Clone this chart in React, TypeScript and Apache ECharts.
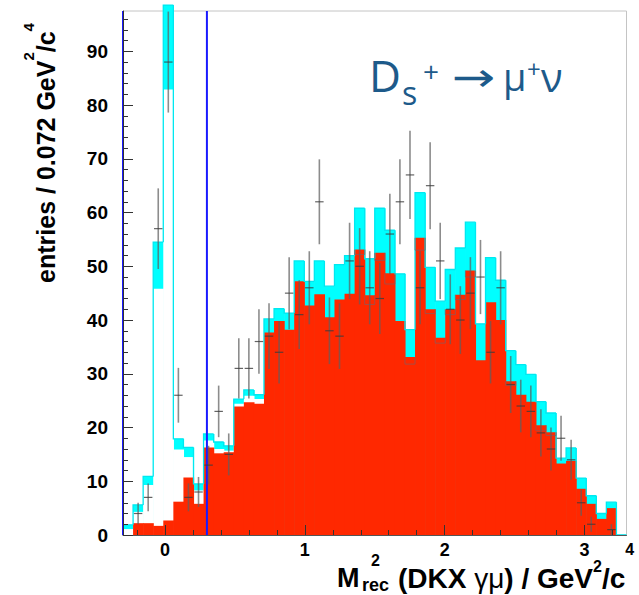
import React, { useEffect, useRef } from 'react';
import * as echarts from 'echarts';

// ---------------- data ----------------
const BIN_START = -0.3;
const BIN_WIDTH = 0.072;
const X_MIN = -0.3;
const X_MAX = 3.3;
const Y_MIN = 0;
const Y_MAX = 97.5;

// total MC (cyan filled)
const totalMC = [
  1.9, 5.6, 10.9, 54.5, 98.6, 17.9, 16.3, 9.5, 18.8, 17.3,
  16.6, 25.3, 27.0, 26.1, 40.2, 42.1, 41.3, 51.0, 47.2, 51.0,
  46.3, 50.3, 52.0, 60.8, 51.4, 60.8, 56.7, 48.6, 38.2, 63.7,
  49.8, 43.5, 49.4, 53.4, 58.2, 39.3, 51.6, 47.4, 34.3, 31.7,
  29.9, 24.8, 22.7, 14.3, 16.2, 10.6, 7.3, 4.0, 6.1, 0,
];
// white-filled component (visible in the signal region)
const whiteComponent = [
  1.1, 4.3, 9.3, 45.8, 82.9, 15.9, 14.5, 8.3, 17.6, 16.0,
  15.7, 24.4, 25.9, 25.3, null, null, null, null, null, null,
  null, null, null, null, null, null, null, null, null, null,
  null, null, null, null, null, null, null, null, null, null,
  null, null, null, null, null, null, null, null, null, null,
];
// background (red filled)
const background = [
  0, 2.2, 2.2, 1.7, 2.7, 6.2, 10.7, 5.8, 16.3, 15.2,
  15.4, 23.9, 24.7, 24.4, 37.7, 39.8, 38.2, 47.2, 42.7, 44.8,
  40.5, 43.8, 44.9, 53.1, 44.6, 52.5, 48.7, 39.8, 33.1, 55.3,
  42.0, 36.7, 42.0, 44.7, 49.2, 32.5, 43.3, 40.0, 28.6, 26.1,
  24.8, 20.4, 19.1, 13.3, 13.8, 8.6, 5.8, 3.0, 5.0, 0,
];
// thin grey outline histogram seen inside the red area
const greyOutline = [
  null, null, null, null, null, null, null, null, null, null,
  null, null, null, null, null, null, null, null, null, null,
  null, null, null, 52.2, 42.9, 51.1, 46.7, null, 31.8, 53.0,
  41.2, 35.7, 41.0, 43.8, 48.0, null, null, null, 27.8, null,
  null, 19.4, 18.5, null, null, null, null, null, null, null,
];
// data points and their errors
const dataCounts = [
  0, 4, 7, 57, 88, 26, 7, 8, 13, 23,
  15, 31, 31, 36, 37, 34, 45, 41, 46, 62,
  38, 37, 51, 50, 46, 44, 56, 62, 67, 46,
  65, 51, 42, 40, 45, 48, 34, 46, 28, 24,
  23, 19, 16, 18, 14, 6, 2, 0, 1, 0,
];
const dataErrors = [
  0, 2.0, 2.6, 7.5, 9.4, 5.1, 2.6, 2.8, 3.6, 4.8,
  3.9, 5.6, 5.6, 6.0, 6.1, 5.8, 6.7, 6.4, 6.8, 7.9,
  6.2, 6.1, 7.1, 7.1, 6.8, 6.6, 7.5, 7.9, 8.2, 6.8,
  8.1, 7.1, 6.5, 6.3, 6.7, 6.9, 5.8, 6.8, 5.3, 4.9,
  4.8, 4.4, 4.0, 4.2, 3.7, 2.4, 1.4, 0, 1.0, 0,
];
const cutLines = [-0.3, 0.3];

const X_MAJOR = [0, 1, 2, 3];
const X_MINOR = [-0.2, 0.2, 0.4, 0.6, 0.8, 1.2, 1.4, 1.6, 1.8, 2.2, 2.4, 2.6, 2.8, 3.2];
const Y_MAJOR = [0, 10, 20, 30, 40, 50, 60, 70, 80, 90];
const Y_MINOR = [
  2, 4, 6, 8, 12, 14, 16, 18, 22, 24, 26, 28, 32, 34, 36, 38, 42, 44, 46, 48,
  52, 54, 56, 58, 62, 64, 66, 68, 72, 74, 76, 78, 82, 84, 86, 88, 92, 94, 96,
];

// ---------------- styling ----------------
const CYAN = '#00ffff';
const CYAN_LINE = '#00e8f0';
const RED = '#ff2800';
const BLUE = '#1a1aff';
const TITLE_BLUE = '#1d5a8a';
const FONT = '"Liberation Sans", Arial, Helvetica, sans-serif';

const binLeft = (i: number) => BIN_START + i * BIN_WIDTH;

function binData(vals: (number | null)[]) {
  const out: number[][] = [];
  vals.forEach((v, i) => {
    if (v != null) out.push([binLeft(i), binLeft(i + 1), v]);
  });
  return out;
}

function fillSeries(name: string, vals: (number | null)[], color: string) {
  return {
    type: 'custom',
    name,
    silent: true,
    data: binData(vals),
    encode: { x: [0, 1], y: 2 },
    renderItem: (params: any, api: any) => {
      const v = api.value(2);
      if (!(v > 0)) return null;
      const a = api.coord([api.value(0), v]);
      const b = api.coord([api.value(1), 0]);
      return {
        type: 'rect',
        shape: { x: a[0], y: a[1], width: b[0] - a[0] + 0.6, height: b[1] - a[1] },
        style: { fill: color },
      };
    },
  };
}

function stepOutlineSeries(vals: number[], color: string, width: number) {
  const data = vals.map((v, i) => [binLeft(i), binLeft(i + 1), v, i > 0 ? vals[i - 1] : 0]);
  return {
    type: 'custom',
    silent: true,
    data,
    encode: { x: [0, 1], y: 2 },
    renderItem: (params: any, api: any) => {
      const p0 = api.coord([api.value(0), api.value(3)]);
      const p1 = api.coord([api.value(0), api.value(2)]);
      const p2 = api.coord([api.value(1), api.value(2)]);
      return {
        type: 'polyline',
        shape: { points: [p0, p1, p2] },
        style: { stroke: color, lineWidth: width, fill: 'none' },
      };
    },
  };
}

function greyBoxSeries() {
  const data: number[][] = [];
  greyOutline.forEach((g, i) => {
    if (g != null) data.push([binLeft(i), binLeft(i + 1), g, background[i]]);
  });
  return {
    type: 'custom',
    silent: true,
    data,
    encode: { x: [0, 1], y: 2 },
    renderItem: (params: any, api: any) => {
      const pts = [
        api.coord([api.value(0), api.value(3)]),
        api.coord([api.value(0), api.value(2)]),
        api.coord([api.value(1), api.value(2)]),
        api.coord([api.value(1), api.value(3)]),
      ];
      return {
        type: 'polyline',
        shape: { points: pts },
        style: { stroke: 'rgba(140,90,90,0.75)', lineWidth: 1, fill: 'none' },
      };
    },
  };
}

function cutLineSeries() {
  return {
    type: 'custom',
    silent: true,
    data: cutLines.map((x) => [x, Y_MAX]),
    encode: { x: 0, y: 1 },
    renderItem: (params: any, api: any) => {
      const b = api.coord([api.value(0), Y_MIN]);
      const t = api.coord([api.value(0), api.value(1)]);
      return {
        type: 'line',
        shape: { x1: b[0], y1: b[1], x2: t[0], y2: t[1] },
        style: { stroke: BLUE, lineWidth: 2 },
      };
    },
  };
}

function dataSeries() {
  const data: number[][] = [];
  dataCounts.forEach((d, i) => {
    if (d > 0) data.push([binLeft(i), binLeft(i + 1), d, dataErrors[i]]);
  });
  return {
    type: 'custom',
    silent: true,
    data,
    encode: { x: [0, 1], y: 2 },
    renderItem: (params: any, api: any) => {
      const x0 = api.value(0);
      const x1 = api.value(1);
      const xc = (x0 + x1) / 2;
      const d = api.value(2);
      const e = api.value(3);
      const top = api.coord([xc, d + e]);
      const bot = api.coord([xc, Math.max(0, d - e)]);
      const l = api.coord([x0 + (x1 - x0) * 0.08, d]);
      const r = api.coord([x1 - (x1 - x0) * 0.08, d]);
      return {
        type: 'group',
        children: [
          {
            type: 'line',
            shape: { x1: top[0], y1: top[1], x2: bot[0], y2: bot[1] },
            style: { stroke: 'rgba(95,95,95,0.72)', lineWidth: 1.6 },
          },
          {
            type: 'line',
            shape: { x1: l[0], y1: l[1], x2: r[0], y2: r[1] },
            style: { stroke: 'rgba(60,60,60,0.8)', lineWidth: 1.2 },
          },
        ],
      };
    },
  };
}

// measure text width with a canvas so title pieces can be laid out in sequence
function textWidth(text: string, font: string): number {
  try {
    const ctx = document.createElement('canvas').getContext('2d');
    if (ctx) {
      ctx.font = font;
      return ctx.measureText(text).width;
    }
  } catch (e) {
    /* ignore */
  }
  return text.length * 15;
}

type Piece = { t: string; size: number; weight: string; dy: number };

function xTitlePieces(): any[] {
  const pieces: Piece[] = [
    { t: '(DKX ', size: 28, weight: 'bold', dy: 0 },
    { t: 'γμ', size: 28, weight: 'normal', dy: 0 },
    { t: ') / GeV', size: 28, weight: 'bold', dy: 0 },
    { t: '2', size: 16, weight: 'bold', dy: -12 },
    { t: '/c', size: 28, weight: 'bold', dy: 0 },
    { t: '4', size: 16, weight: 'bold', dy: -29 },
  ];
  const baseY = 578;
  let x = 398;
  const out: any[] = [];
  pieces.forEach((p) => {
    out.push({
      type: 'text',
      x,
      y: baseY + p.dy,
      silent: true,
      style: {
        text: p.t,
        fontSize: p.size,
        fontWeight: p.weight,
        fontFamily: FONT,
        fill: '#000',
        align: 'left',
        verticalAlign: 'middle',
      },
    });
    x += textWidth(p.t, `${p.weight} ${p.size}px "Liberation Sans"`);
  });
  return out;
}

function buildOption(): any {
  const yTickLabel = { fontSize: 19, fontWeight: 'bold', color: '#000', fontFamily: FONT };
  const xTickLabel = { fontSize: 18, fontWeight: 'bold', color: '#000', fontFamily: FONT };
  return {
    animation: false,
    backgroundColor: '#ffffff',
    grid: {
      left: 123,
      top: 11,
      width: 503.5,
      height: 524,
      show: true,
      borderColor: '#c4c4c4',
      borderWidth: 1,
      backgroundColor: 'transparent',
      containLabel: false,
      outerBoundsMode: 'none',
    },
    xAxis: [
      {
        type: 'value',
        min: X_MIN,
        max: X_MAX,
        position: 'bottom',
        z: 10,
        axisLine: { show: true, onZero: false, lineStyle: { color: '#555', width: 1 } },
        axisTick: { show: true, inside: true, length: 10, customValues: X_MAJOR, lineStyle: { color: '#333', width: 1 } },
        axisLabel: { ...xTickLabel, customValues: X_MAJOR, margin: 6, formatter: (v: number) => String(v) },
        splitLine: { show: false },
      },
      {
        type: 'value',
        min: X_MIN,
        max: X_MAX,
        position: 'bottom',
        z: 10,
        axisLine: { show: false, onZero: false },
        axisTick: { show: true, inside: true, length: 5, customValues: X_MINOR, lineStyle: { color: '#333', width: 1 } },
        axisLabel: { show: false },
        splitLine: { show: false },
      },
    ],
    yAxis: [
      {
        type: 'value',
        min: Y_MIN,
        max: Y_MAX,
        position: 'left',
        z: 10,
        axisLine: { show: true, onZero: false, lineStyle: { color: '#333', width: 1 } },
        axisTick: { show: true, inside: true, length: 10, customValues: Y_MAJOR, lineStyle: { color: '#333', width: 1 } },
        axisLabel: { ...yTickLabel, customValues: Y_MAJOR, margin: 15, formatter: (v: number) => String(v) },
        splitLine: { show: false },
      },
      {
        type: 'value',
        min: Y_MIN,
        max: Y_MAX,
        position: 'left',
        z: 10,
        axisLine: { show: false, onZero: false },
        axisTick: { show: true, inside: true, length: 5, customValues: Y_MINOR, lineStyle: { color: '#333', width: 1 } },
        axisLabel: { show: false },
        splitLine: { show: false },
      },
    ],
    series: [
      fillSeries('total MC', totalMC, CYAN),
      fillSeries('component', whiteComponent, '#ffffff'),
      fillSeries('background', background, RED),
      stepOutlineSeries(totalMC, CYAN_LINE, 1.3),
      greyBoxSeries(),
      cutLineSeries(),
      dataSeries(),
    ],
    graphic: [
      // y-axis title
      {
        type: 'text',
        x: 46,
        y: 153,
        rotation: Math.PI / 2,
        silent: true,
        style: {
          text: '{b|entries / 0.072 GeV}{s|2}{b|/c}{s|4}',
          align: 'center',
          verticalAlign: 'middle',
          rich: {
            b: { fontSize: 25, fontWeight: 'bold', fontFamily: FONT, fill: '#000', lineHeight: 51 },
            s: { fontSize: 15, fontWeight: 'bold', fontFamily: FONT, fill: '#000', verticalAlign: 'top' },
          },
        },
      },
      // x-axis title
      {
        type: 'text', x: 337, y: 578, silent: true,
        style: { text: 'M', fontSize: 27, fontWeight: 'bold', fontFamily: FONT, fill: '#000', align: 'left', verticalAlign: 'middle' },
      },
      {
        type: 'text', x: 371, y: 560, silent: true,
        style: { text: '2', fontSize: 16, fontWeight: 'bold', fontFamily: FONT, fill: '#000', align: 'left', verticalAlign: 'middle' },
      },
      {
        type: 'text', x: 362, y: 585, silent: true,
        style: { text: 'rec', fontSize: 18, fontWeight: 'bold', fontFamily: FONT, fill: '#000', align: 'left', verticalAlign: 'middle' },
      },
      ...xTitlePieces(),
      // annotation  Ds+ -> mu+ nu
      {
        type: 'text', x: 369, y: 75, silent: true,
        style: { text: 'D', fontSize: 44, fontFamily: '"Open Sans", sans-serif', fill: TITLE_BLUE, align: 'left', verticalAlign: 'middle' },
      },
      {
        type: 'text', x: 402, y: 92, silent: true,
        style: { text: 's', fontSize: 32, fontFamily: '"Open Sans", sans-serif', fill: TITLE_BLUE, align: 'left', verticalAlign: 'middle' },
      },
      {
        type: 'text', x: 423, y: 71, silent: true,
        style: { text: '+', fontSize: 28, fontFamily: '"Open Sans", sans-serif', fill: TITLE_BLUE, align: 'left', verticalAlign: 'middle' },
      },
      {
        type: 'text', x: 452, y: 77, scaleX: 1.3, silent: true,
        style: { text: '→', fontSize: 40, fontFamily: '"DejaVu Sans", sans-serif', fill: TITLE_BLUE, align: 'left', verticalAlign: 'middle' },
      },
      {
        type: 'text', x: 503, y: 76, silent: true,
        style: { text: 'μ', fontSize: 38, fontFamily: '"Open Sans", sans-serif', fill: TITLE_BLUE, align: 'left', verticalAlign: 'middle' },
      },
      {
        type: 'text', x: 527, y: 68, silent: true,
        style: { text: '+', fontSize: 24, fontFamily: '"Open Sans", sans-serif', fill: TITLE_BLUE, align: 'left', verticalAlign: 'middle' },
      },
      {
        type: 'text', x: 541, y: 76, silent: true,
        style: { text: 'ν', fontSize: 40, fontFamily: '"Open Sans", sans-serif', fill: TITLE_BLUE, align: 'left', verticalAlign: 'middle' },
      },
    ],
  };
}

export default function App() {
  const ref = useRef<HTMLDivElement>(null);
  useEffect(() => {
    if (!ref.current) return;
    const chart = echarts.init(ref.current, null, { renderer: 'svg' });
    chart.setOption(buildOption());
    return () => chart.dispose();
  }, []);
  return (
    <div
      ref={ref}
      style={{ position: 'absolute', left: 0, top: 0, width: 639, height: 595, background: '#fff' }}
    />
  );
}
